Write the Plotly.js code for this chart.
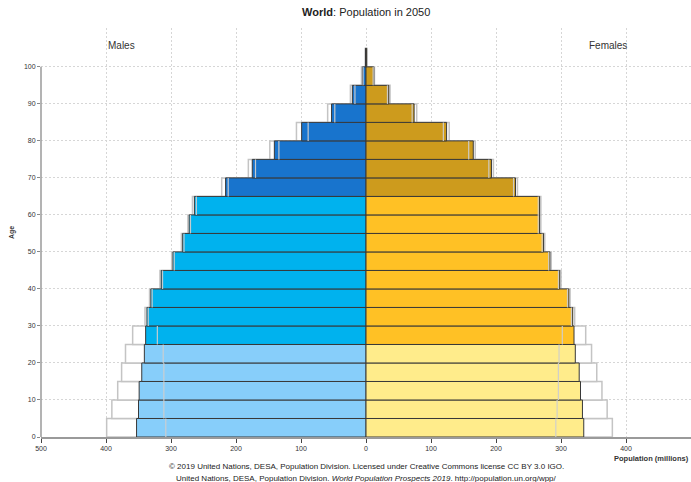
<!DOCTYPE html>
<html>
<head>
<meta charset="utf-8">
<script src="https://cdn.plot.ly/plotly-3.0.1.min.js"></script>
<style>html,body{margin:0;padding:0;background:#fff;}#chart{width:691px;height:482px;}</style>
</head>
<body>
<div id="chart"></div>
<script>
// Age group starts (5-year groups, last is 100+)
const ageStarts = [0,5,10,15,20,25,30,35,40,45,50,55,60,65,70,75,80,85,90,95,100];
// Population in millions, 2050 (median projection)
const maleMedian   = [353,350,349,345,341,339,337,331,315,297,282,272,264,216,175,141,99,53,21,5.5,0.8];
const femaleMedian = [335,333,330,328,322,320,318,312,298,283,273,267,267,230,193,165,124,74,35,12,1.0];
// Upper bound (outline bars)
const maleUpper    = [399,391,382,376,370,359,340,333,317,299,284,274,267,222,181,148,107,59,24,7,1.2];
const femaleUpper  = [379,371,363,355,347,338,321,314,300,285,275,269,269,233,196,168,128,78,37,13,1.5];
// Lower bound (thin inner lines)
const maleLower    = [308,311,311,311,312,321,335,329,313,295,280,270,261,212,170,134,89,48,17,4.5,0.5];
const femaleLower  = [292,294,296,296,297,302,316,310,296,281,271,265,265,227,189,158,119,71,33,11,0.8];
// Tick labels
const xTickVals = [-500,-400,-300,-200,-100,0,100,200,300,400,500];
const xTickText = ['500','400','300','200','100','0','100','200','300','400','500'];
const yTickVals = [0,10,20,30,40,50,60,70,80,90,100];

const maleColors = ageStarts.map(a => a < 25 ? '#87CEFA' : (a < 65 ? '#00B2EE' : '#1874CD'));
const femaleColors = ageStarts.map(a => a < 25 ? '#FFEC8B' : (a < 65 ? '#FFC125' : '#CD9B1D'));
const yMid = ageStarts.map(a => a + 2.5);

function lowerLines(vals, sign) {
  const xs = [], ys = [];
  vals.forEach((v, i) => {
    if (ageStarts[i] >= 100) return; // open-ended group drawn as a spike only
    xs.push(sign*v, sign*v, null); ys.push(ageStarts[i], ageStarts[i]+5, null);
  });
  return {xs, ys};
}
const ml = lowerLines(maleLower, -1);
const fl = lowerLines(femaleLower, 1);

const traces = [
  {type:'bar', orientation:'h', y:yMid, x:maleUpper.map(v=>-v), width:5,
   marker:{color:'#ffffff', line:{color:'#c4c4c4', width:1.5}}, hoverinfo:'skip', showlegend:false},
  {type:'bar', orientation:'h', y:yMid, x:femaleUpper, width:5,
   marker:{color:'#ffffff', line:{color:'#c4c4c4', width:1.5}}, hoverinfo:'skip', showlegend:false},
  {type:'bar', orientation:'h', y:yMid, x:maleMedian.map(v=>-v), width:5,
   marker:{color:maleColors, line:{color:'#383838', width:1}}, showlegend:false},
  {type:'bar', orientation:'h', y:yMid, x:femaleMedian, width:5,
   marker:{color:femaleColors, line:{color:'#383838', width:1}}, showlegend:false},
  {type:'scatter', mode:'lines', x:ml.xs, y:ml.ys, line:{color:'rgba(205,205,205,0.95)', width:1.2},
   hoverinfo:'skip', showlegend:false},
  {type:'scatter', mode:'lines', x:fl.xs, y:fl.ys, line:{color:'rgba(205,205,205,0.95)', width:1.2},
   hoverinfo:'skip', showlegend:false}
];

const tickFont = {family:'Liberation Sans, Arial, sans-serif', size:7, color:'#333'};
const layout = {
  width:691, height:482,
  margin:{l:41, r:0, t:28, b:45},
  paper_bgcolor:'#fff', plot_bgcolor:'#fff',
  barmode:'overlay', bargap:0,
  font:{family:'Liberation Sans, Arial, sans-serif', color:'#222'},
  title:{text:'<b>World</b>: Population in 2050', x:0.53, xanchor:'center', y:0.975, yanchor:'middle',
         font:{size:11, color:'#222', family:'Liberation Sans, Arial, sans-serif'}},
  xaxis:{range:[-500,500], tickvals:xTickVals, ticktext:xTickText, tickfont:tickFont,
         showgrid:true, gridcolor:'#d6d6d6', griddash:'2px,2px', gridwidth:1, zeroline:false,
         showline:true, linecolor:'#9a9a9a', linewidth:1.5, ticks:'outside', ticklen:4, tickcolor:'#444',
         fixedrange:true},
  yaxis:{range:[0,110.5], tickvals:yTickVals, tickfont:tickFont,
         showgrid:true, gridcolor:'#d6d6d6', griddash:'2px,2px', gridwidth:1, zeroline:false,
         showline:false, ticks:'outside', ticklen:3, tickcolor:'#888',
         title:{text:'<b>Age</b>', standoff:8, font:{size:7, color:'#333'}}, fixedrange:true},
  shapes:[
    {type:'line', xref:'paper', yref:'y', x0:0, x1:0, y0:0, y1:100, line:{color:'#9a9a9a', width:1.5}, layer:'above'}
  ],
  annotations:[
    {text:'Males', xref:'x', yref:'paper', x:-376, y:0.956, showarrow:false, xanchor:'center', yanchor:'middle',
     font:{size:10, color:'#333'}},
    {text:'Females', xref:'x', yref:'paper', x:373, y:0.956, showarrow:false, xanchor:'center', yanchor:'middle',
     font:{size:10, color:'#333'}},
    {text:'<b>Population (millions)</b>', xref:'paper', yref:'paper', x:1, y:-0.052, showarrow:false,
     xanchor:'right', yanchor:'middle', font:{size:7.5, color:'#333'}},
    {text:'© 2019 United Nations, DESA, Population Division. Licensed under Creative Commons license CC BY 3.0 IGO.',
     xref:'paper', yref:'paper', x:0.5, y:-0.071, showarrow:false, xanchor:'center', yanchor:'middle',
     font:{size:8, color:'#222'}},
    {text:'United Nations, DESA, Population Division. <i>World Population Prospects 2019</i>. http://population.un.org/wpp/',
     xref:'paper', yref:'paper', x:0.5, y:-0.102, showarrow:false, xanchor:'center', yanchor:'middle',
     font:{size:8, color:'#222'}}
  ]
};
Plotly.newPlot('chart', traces, layout, {displayModeBar:false, staticPlot:true});
</script>
</body>
</html>
